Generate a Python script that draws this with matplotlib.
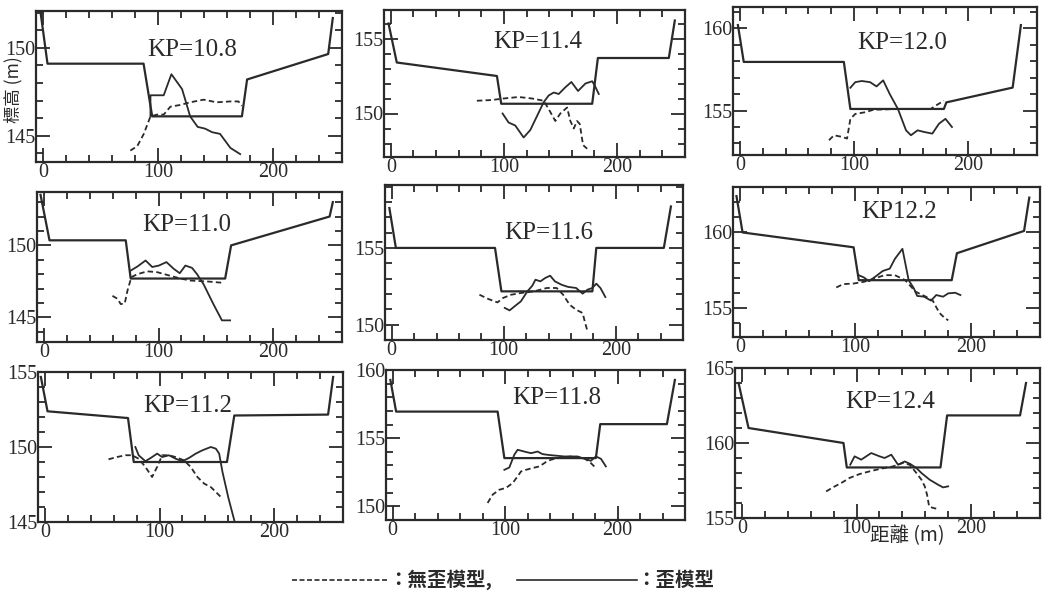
import matplotlib.pyplot as plt
from matplotlib.lines import Line2D
from matplotlib.ticker import MultipleLocator

# cross-section outline, 歪模型 (solid) and 無歪模型 (dashed) bed profiles, per KP
sec_108 = [(-2, 152.0), (4, 149.1), (87.5, 149.1), (95, 146.1), (173, 146.1), (177.5, 148.2), (248, 149.65), (252, 151.7)]
dis_108 = [(93.5, 146.1), (93.5, 147.3), (105, 147.3), (111.7, 148.5), (121, 147.65), (128, 146.1), (134.5, 145.5),
           (141, 145.4), (147, 145.2), (154, 145.1), (163, 144.3), (171.5, 143.95)]
und_108 = [(76, 144.15), (82, 144.4), (87.7, 145.1), (93.5, 146.1), (99.3, 146.2), (105, 146.2), (110.8, 146.65),
           (119.5, 146.75), (128, 146.9), (139.7, 147.05), (151, 146.9), (163, 146.95), (170, 146.95), (173, 146.7)]

sec_114 = [(-2, 156.0), (5.3, 153.4), (93.8, 152.5), (97.6, 150.65), (178, 150.65), (183, 153.7), (245.7, 153.7), (251, 156.2)]
dis_114 = [(98.8, 150.0), (104.1, 149.4), (110, 149.2), (117.4, 148.4), (123.3, 148.9), (135.1, 150.75), (139.5, 151.2),
           (144, 151.4), (148.4, 151.3), (154.3, 151.75), (159.6, 152.1), (165.5, 151.5), (172, 152.0), (178, 152.15),
           (180.3, 151.85), (183.8, 151.3)]
und_114 = [(76.1, 150.85), (89.4, 150.9), (99.7, 151.0), (113, 151.1), (124.8, 151.0), (135.1, 150.85), (139.5, 150.3),
           (145.4, 149.5), (149.8, 150.0), (155.8, 150.4), (158.7, 149.5), (161.7, 149.0), (164.6, 149.5), (167, 149.3),
           (169.9, 147.9), (173.5, 147.65)]

sec_120 = [(-1.7, 160.2), (3.4, 157.96), (91, 157.96), (96.7, 155.1), (178.5, 155.1), (180.7, 155.5), (238.7, 156.4), (245.9, 160.2)]
dis_120 = [(96.7, 156.39), (101, 156.73), (106.7, 156.8), (113.9, 156.73), (119.6, 156.47), (125.4, 156.84), (131.2, 156.0),
           (138.3, 155.1), (145.4, 153.8), (149.7, 153.5), (155.5, 153.8), (161.3, 153.7), (168.4, 153.6), (174.2, 154.2),
           (179.9, 154.5), (185.6, 154.0)]
und_120 = [(78, 153.2), (82.4, 153.5), (89.5, 153.4), (93.8, 153.3), (96.7, 154.5), (101, 154.8), (109.6, 154.9),
           (116.8, 155.05), (138.3, 155.1), (167, 155.1), (171.3, 155.3), (178.5, 155.6)]

sec_110 = [(-2.9, 153.5), (4.9, 150.35), (71.4, 150.35), (75.7, 147.7), (158.1, 147.7), (163.3, 150.0), (249.2, 152.0), (252, 153.0)]
dis_110 = [(75.7, 148.25), (81.5, 148.53), (88.7, 148.95), (94.5, 148.5), (100.3, 148.6), (106.9, 148.84), (113.3, 148.37),
           (118.5, 148.07), (123.4, 148.6), (129.2, 148.44), (133.6, 148.0), (139.3, 147.3), (148, 145.9), (155.3, 144.8),
           (162.4, 144.8)]
und_110 = [(59.8, 146.5), (64.2, 146.3), (67, 145.93), (70.5, 145.97), (72.9, 146.86), (76.3, 147.8), (81.5, 148.0),
           (90.2, 148.2), (98.9, 148.14), (107.5, 147.95), (119.1, 147.7), (127.8, 147.56), (142.2, 147.5), (156.6, 147.4)]

sec_116 = [(-2.1, 157.6), (3.7, 155.0), (92.2, 155.0), (97.9, 152.17), (179.1, 152.17), (182.6, 155.0), (242.9, 155.0), (249.2, 157.7)]
dis_116 = [(100.9, 151.09), (105.2, 150.93), (109.6, 151.19), (115.3, 151.52), (121.1, 152.17), (125.5, 152.54),
           (128.3, 152.93), (132.7, 152.82), (137, 153.04), (141.4, 153.19), (145.7, 152.82), (151.6, 152.6),
           (157.4, 152.46), (164.6, 152.39), (170.4, 152.02), (174.8, 152.28), (179.1, 152.39), (182.6, 152.67),
           (186.3, 152.39), (190.7, 151.8)]
und_116 = [(78.3, 151.95), (86.3, 151.67), (94.4, 151.45), (99.4, 151.74), (106.6, 151.95), (115.3, 152.06), (127, 152.17),
           (138.5, 152.39), (147.2, 152.39), (153, 151.95), (158.8, 151.3), (164.6, 150.97), (170.4, 150.76),
           (172.7, 150.1), (174.8, 149.56)]

sec_122 = [(-3, 162.4), (2.3, 160.0), (98.5, 159.02), (103, 156.85), (183.5, 156.85), (188, 158.63), (246.2, 160.1), (250.7, 162.3)]
dis_122 = [(103, 157.18), (107.4, 157.03), (111.9, 156.78), (117.8, 157.11), (123.8, 157.46), (129.8, 157.61),
           (134.3, 158.26), (140.8, 158.92), (146.2, 156.85), (150.7, 156.31), (153.6, 155.81), (159.6, 155.76),
           (165.6, 155.5), (170.1, 155.87), (176, 155.76), (180.5, 155.98), (186.5, 156.02), (191, 155.87)]
und_122 = [(83.5, 156.37), (89.5, 156.59), (98.5, 156.63), (107.4, 156.74), (116.4, 156.96), (125.3, 157.18),
           (134.3, 157.18), (143.2, 156.85), (152.2, 156.09), (161.1, 155.76), (167.1, 155.5), (170.6, 155.0),
           (173, 154.68), (177.5, 154.35), (180.5, 154.2)]

sec_112 = [(-3.5, 154.67), (2.3, 152.38), (72.5, 151.93), (77.5, 149.0), (158.8, 149.0), (165.2, 152.1), (247, 152.16), (251.4, 154.67)]
dis_112 = [(78.9, 150.0), (81.8, 149.45), (87.7, 149.05), (93.5, 149.33), (97.9, 149.56), (102.3, 149.33), (108.2, 149.45),
           (114, 149.22), (119.8, 149.05), (125.7, 149.27), (131.6, 149.56), (137.4, 149.78), (144.7, 150.0),
           (149.1, 149.89), (152, 149.56), (154.9, 148.33), (160.2, 146.56), (165.2, 145.11)]
und_112 = [(55.5, 149.18), (62.8, 149.33), (70.2, 149.45), (76, 149.45), (81.8, 149.22), (87.7, 148.67), (93.5, 148.0),
           (97.9, 148.67), (102.3, 149.45), (108.2, 149.45), (114, 149.33), (121.3, 149.11), (127.2, 148.67),
           (133, 148.0), (138.9, 147.56), (144.7, 147.33), (149.1, 147.0), (154.9, 146.56)]

sec_118 = [(-2.1, 159.27), (3.0, 156.95), (93.3, 156.95), (99.3, 153.54), (180.7, 153.54), (184.6, 156.03), (243.9, 156.03), (251, 159.27)]
dis_118 = [(99.3, 152.68), (103.7, 152.85), (108.1, 153.78), (111.1, 154.15), (117, 154.02), (123, 153.9), (128.9, 154.02),
           (133.3, 153.83), (137.8, 153.78), (143.7, 153.73), (152.6, 153.66), (164.4, 153.66), (170.4, 153.49),
           (176.3, 153.34), (180.7, 153.66), (185.2, 153.49), (189.6, 152.93)]
und_118 = [(84.4, 150.25), (88.9, 150.86), (94.8, 151.22), (100.7, 151.35), (106.7, 151.71), (111.1, 152.2),
           (114.1, 152.56), (118.5, 152.68), (124.4, 152.81), (130.4, 152.93), (136.3, 153.25), (140.7, 153.42),
           (146.7, 153.54), (158.5, 153.66), (170.4, 153.54), (176.3, 153.17), (180.7, 152.81)]

sec_124 = [(-2.9, 164.0), (5.8, 161.0), (88.6, 160.0), (91.5, 158.37), (173.2, 158.37), (179, 161.84), (242.6, 161.84), (247.8, 164.0)]
dis_124 = [(94.5, 158.55), (98.3, 159.11), (104.1, 158.89), (112.8, 159.33), (120.1, 159.11), (124.5, 159.0),
           (130.3, 159.22), (136.2, 158.55), (142, 158.77), (146.9, 158.6), (152.2, 158.33), (156.6, 158.0),
           (163.8, 157.55), (171.1, 157.22), (175.5, 157.04), (179.9, 157.11)]
und_124 = [(73.5, 156.77), (79.3, 157.04), (86.6, 157.33), (93.9, 157.67), (102.6, 157.93), (111.4, 158.11),
           (121.6, 158.29), (131.8, 158.44), (140.5, 158.67), (146.4, 158.55), (152.2, 158.0), (156.6, 157.55),
           (159.5, 157.11), (161.5, 156.55), (163.3, 155.77), (166.8, 155.67), (169.7, 155.62)]

titles = ["KP=10.8", "KP=11.4", "KP=12.0",
          "KP=11.0", "KP=11.6", "KP12.2",
          "KP=11.2", "KP=11.8", "KP=12.4"]
y_limits = [(143.5, 152.1), (147.1, 156.9), (152.3, 161.3),
            (143.3, 153.7), (149.0, 159.1), (153.1, 163.0),
            (145.0, 155.0), (149.0, 160.0), (155.0, 165.0)]
sections = [sec_108, sec_114, sec_120, sec_110, sec_116, sec_122, sec_112, sec_118, sec_124]
distorted = [dis_108, dis_114, dis_120, dis_110, dis_116, dis_122, dis_112, dis_118, dis_124]
undistorted = [und_108, und_114, und_120, und_110, und_116, und_122, und_112, und_118, und_124]

plt.rcParams['font.family'] = ['Liberation Serif', 'DejaVu Serif']
cjk = ['Noto Sans CJK TC', 'DejaVu Sans']
ink = '#2a2a2a'

W, H = 1046, 598
# panel boxes in pixels: left, top, right, bottom
boxes = [(36, 11, 342, 162), (384, 10, 685, 157), (733, 7, 1037, 155),
         (37, 192, 342, 342), (385, 185, 683, 340), (733, 187, 1040, 337),
         (38, 372, 343, 522), (386, 370, 685, 520), (735, 368, 1040, 518)]
title_pos = [(0.51, 0.74), (0.51, 0.78), (0.557, 0.76),
             (0.49, 0.78), (0.55, 0.69), (0.54, 0.83),
             (0.49, 0.77), (0.57, 0.81), (0.51, 0.77)]

fig = plt.figure(figsize=(W / 100, H / 100), dpi=100)

for i in range(9):
    l, t, r, b = boxes[i]
    ax = fig.add_axes([l / W, 1 - b / H, (r - l) / W, (b - t) / H])

    sx, sy = zip(*sections[i])
    dx, dy = zip(*distorted[i])
    ux, uy = zip(*undistorted[i])
    ax.plot(sx, sy, color=ink, lw=1.6)
    ax.plot(dx, dy, color=ink, lw=1.3)
    ax.plot(ux, uy, color=ink, lw=1.3, linestyle=(0, (3, 1.8)))

    ax.set_xlim(-6, 260)
    ax.set_ylim(*y_limits[i])
    ax.xaxis.set_major_locator(MultipleLocator(100))
    ax.xaxis.set_minor_locator(MultipleLocator(20))
    ax.yaxis.set_major_locator(MultipleLocator(5))
    ax.yaxis.set_minor_locator(MultipleLocator(1))
    ax.tick_params(which='both', direction='in', top=True, right=True,
                   color=ink, width=1.3, labelsize=14.5, labelcolor=ink)
    ax.tick_params(which='major', length=10, pad=0.5)
    ax.tick_params(which='minor', length=5)
    for s in ax.spines.values():
        s.set_linewidth(1.6)
        s.set_color(ink)

    ax.text(title_pos[i][0], title_pos[i][1], titles[i], transform=ax.transAxes,
            ha='center', va='center', fontsize=18, color=ink)

fig.text(13 / W, 1 - 90 / H, "標高 (m)", rotation=90, ha='center', va='center',
         fontsize=12.5, color=ink, family=cjk)
fig.text(907 / W, 1 - 536 / H, "距離 (m)", ha='center', va='center',
         fontsize=14, color=ink, family=cjk)

# legend at the bottom
fig.add_artist(Line2D([292 / W, 387 / W], [1 - 580 / H, 1 - 580 / H], color=ink, lw=1.2,
                      linestyle=(0, (3, 1.5))))
fig.text(388 / W, 1 - 580 / H, "：無歪模型,", ha='left', va='center', fontsize=14,
         color=ink, family=cjk, fontweight='bold')
fig.add_artist(Line2D([517 / W, 637 / W], [1 - 580 / H, 1 - 580 / H], color=ink, lw=1.2))
fig.text(636 / W, 1 - 580 / H, "：歪模型", ha='left', va='center', fontsize=14,
         color=ink, family=cjk, fontweight='bold')

fig.savefig("out.png", dpi=100)
